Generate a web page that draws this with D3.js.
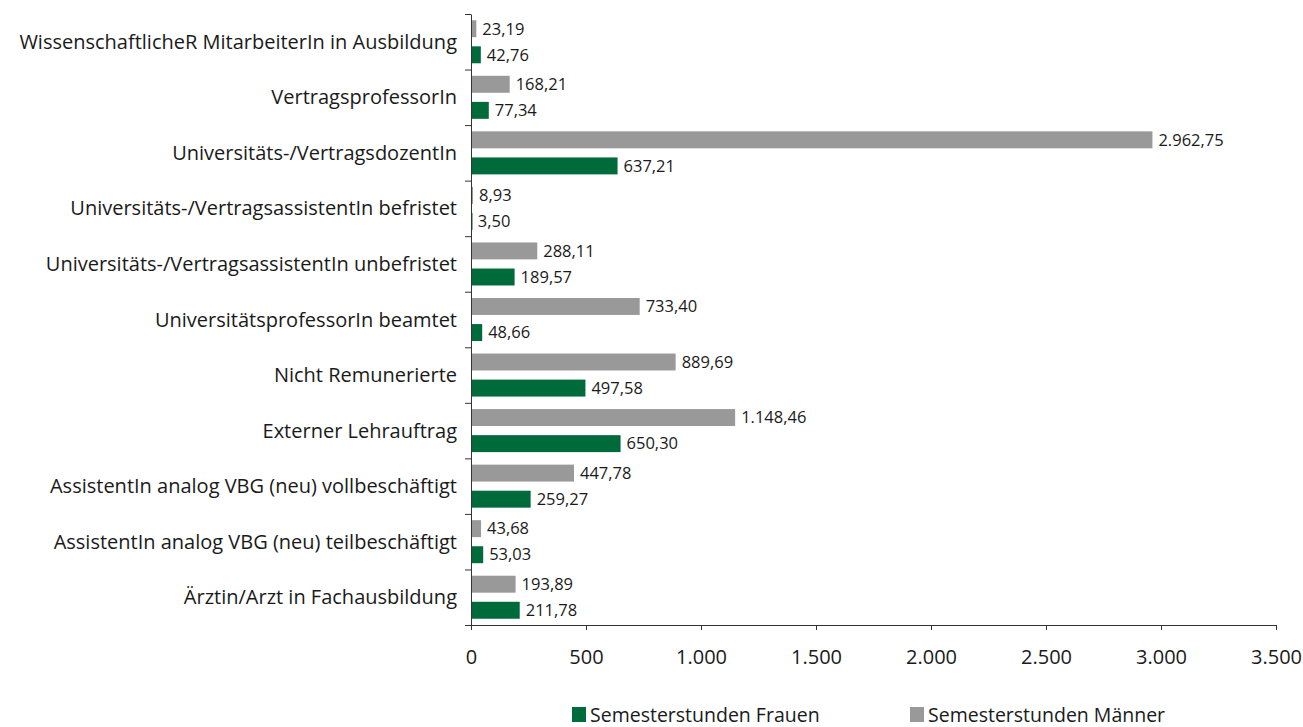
<!DOCTYPE html>
<html>
<head>
<meta charset="utf-8">
<script src="https://cdn.jsdelivr.net/npm/d3@7"></script>
<style>
body { margin: 0; background: #fff; }
text { font-family: "Open Sans", sans-serif; fill: #1a1a1a; }
</style>
</head>
<body>
<div id="chart"></div>
<script>
var categories = [
    "WissenschaftlicheR MitarbeiterIn in Ausbildung",
    "VertragsprofessorIn",
    "Universitäts-/VertragsdozentIn",
    "Universitäts-/VertragsassistentIn befristet",
    "Universitäts-/VertragsassistentIn unbefristet",
    "UniversitätsprofessorIn beamtet",
    "Nicht Remunerierte",
    "Externer Lehrauftrag",
    "AssistentIn analog VBG (neu) vollbeschäftigt",
    "AssistentIn analog VBG (neu) teilbeschäftigt",
    "Ärztin/Arzt in Fachausbildung"
];
var maenner = [23.19, 168.21, 2962.75, 8.93, 288.11, 733.40, 889.69, 1148.46, 447.78, 43.68, 193.89];
var frauen = [42.76, 77.34, 637.21, 3.50, 189.57, 48.66, 497.58, 650.30, 259.27, 53.03, 211.78];
var series = ["Semesterstunden Männer", "Semesterstunden Frauen"];
var xTicks = [0, 500, 1000, 1500, 2000, 2500, 3000, 3500];

var colors = {"Semesterstunden Männer": "#999999", "Semesterstunden Frauen": "#006b3a"};

var de = d3.formatLocale({decimal: ",", thousands: ".", grouping: [3], currency: ["", "€"]});
var fmtVal = de.format(",.2f"), fmtTick = de.format(",.0f");

var W = 1303, H = 727;
var margin = {top: 14, left: 471, right: 27, bottom: 102};
var width = W - margin.left - margin.right, height = H - margin.top - margin.bottom;

var svg = d3.select('#chart').append('svg')
    .attr('width', W).attr('height', H)
var g = svg.append('g').attr('transform', 'translate(' + margin.left + ',' + margin.top + ')');

var x = d3.scaleLinear().domain([0, 3500]).range([0, width]);
var y = d3.scaleBand().domain(categories).range([0, height]).padding(0);
var yInner = d3.scaleBand().domain(series).range([0, y.bandwidth()])
    .paddingInner(0.35).paddingOuter(0.24);
var yEdge = d3.scaleLinear().domain([0, categories.length]).range([0, height]);

var rows = categories.map(function(c, i) {
    return [{cat: c, s: series[0], v: maenner[i]}, {cat: c, s: series[1], v: frauen[i]}];
});
var flat = [].concat.apply([], rows);

g.selectAll('rect.bar').data(flat).enter().append('rect')
    .attr('class', 'bar')
    .attr('x', x(0))
    .attr('y', function(d) { return y(d.cat) + yInner(d.s) })
    .attr('width', function(d) { return Math.max(x(d.v) - x(0), 1.5) })
    .attr('height', yInner.bandwidth())
    .attr('fill', function(d) { return colors[d.s] });

g.selectAll('text.val').data(flat).enter().append('text')
    .attr('class', 'val')
    .attr('x', function(d) { return x(d.v) + 6 })
    .attr('y', function(d) { return y(d.cat) + yInner(d.s) + yInner.bandwidth() / 2 })
    .attr('dy', '0.35em')
    .style('font-size', '16.5px')
    .text(function(d) { return fmtVal(d.v) });

// category labels
g.selectAll('text.cat').data(categories).enter().append('text')
    .attr('class', 'cat')
    .attr('x', -14)
    .attr('y', function(d) { return y(d) + y.bandwidth() / 2 })
    .attr('dy', '0.35em')
    .attr('text-anchor', 'end')
    .style('font-size', '20px')
    .text(function(d) { return d });

// y axis with ticks at band edges
var ya = g.append('g')
    .call(d3.axisLeft(yEdge).tickValues(d3.range(categories.length + 1)).tickFormat('').tickSize(6).tickSizeOuter(0));
ya.select('.domain').attr('stroke', '#333');
ya.selectAll('.tick line').attr('stroke', '#333');

var xa = g.append('g')
    .attr('transform', 'translate(0,' + height + ')')
    .call(d3.axisBottom(x).tickValues(xTicks).tickFormat(fmtTick).tickSize(5).tickSizeOuter(0).tickPadding(20));
xa.select('.domain').attr('stroke', '#333');
xa.selectAll('.tick line').attr('stroke', '#333');
xa.selectAll('.tick text').style('font-size', '20px').attr('fill', '#1a1a1a').style('font-family', '"Open Sans", sans-serif');

// legend
var legend = svg.append('g');
var legItems = [
    {s: "Semesterstunden Frauen", x: 572},
    {s: "Semesterstunden Männer", x: 910}
];
var li = legend.selectAll('g').data(legItems).enter().append('g')
    .attr('transform', function(d) { return 'translate(' + d.x + ',707)' });
li.append('rect').attr('width', 14).attr('height', 15).attr('fill', function(d) { return colors[d.s] });
li.append('text').attr('x', 18).attr('y', 15).style('font-size', '19.5px').text(function(d) { return d.s });
</script>
</body>
</html>
